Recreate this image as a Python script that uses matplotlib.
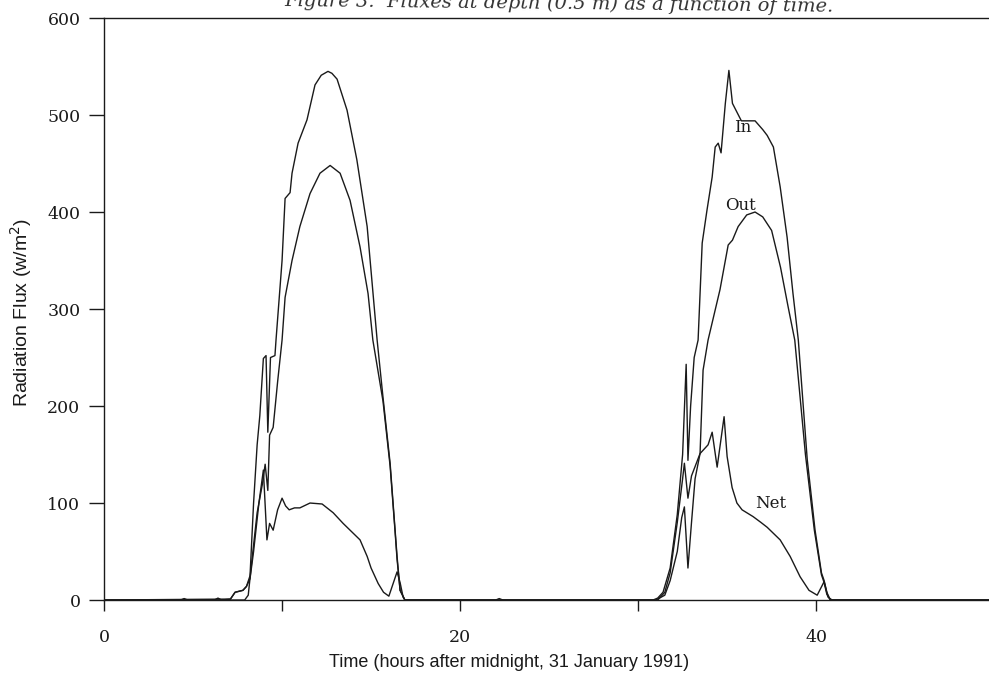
import matplotlib
matplotlib.use("Agg")
import matplotlib.pyplot as plt
import numpy as np

# values (hours after midnight, W/m^2)
hours_in = [0, 4.3, 4.5, 4.7, 6.2, 6.4, 6.6, 7.1, 7.36, 7.8, 8.0, 8.2, 8.4, 8.6, 8.75,
            8.95, 9.1, 9.2, 9.35, 9.6, 9.66, 10.0, 10.17, 10.45, 10.56, 10.9, 11.4,
            11.85, 12.2, 12.58, 12.8, 13.09, 13.65, 14.2, 14.78, 15.34, 15.67, 16.07,
            16.35, 16.46, 16.63, 16.9, 22.0, 22.2, 22.4, 30.84, 31.1, 31.4, 31.8, 32.2,
            32.5, 32.7, 32.8, 32.95, 33.15, 33.37, 33.6, 33.87, 34.16, 34.33, 34.5,
            34.66, 34.9, 35.1, 35.3, 35.55, 35.8, 36.1, 36.57, 37.0, 37.25, 37.6,
            37.98, 38.37, 38.7, 39.0, 39.5, 39.94, 40.3, 40.45, 40.6, 40.8, 52]
flux_in = [0, 0, 1.5, 0, 0, 2, 0, 1, 8, 10, 14, 25, 100, 160, 190,
           249, 252, 173, 250, 252, 268, 350, 414, 420, 440, 471, 495,
           531, 541, 545, 543, 537, 505, 454, 385, 268, 209, 141,
           72, 45, 10, 0, 0, 1.5, 0, 0, 2, 8, 33, 88,
           150, 243, 144, 200, 250, 268, 368, 402, 436, 467, 471,
           461, 512, 546, 512, 503, 494, 494, 494, 485, 479, 467,
           426, 374, 316, 268, 145, 72, 28, 20, 8, 0, 0]

hours_out = [0, 7.9, 8.1, 8.3, 8.6, 8.9, 9.05, 9.2, 9.3, 9.5, 9.75, 10.0, 10.17, 10.56,
             11.0, 11.57, 12.13, 12.7, 13.26, 13.82, 14.38, 14.83, 15.1, 15.67, 16.07,
             16.35, 16.46, 16.63, 16.9, 31.1, 31.5, 31.8, 32.2, 32.5, 32.6, 32.8, 33.0,
             33.48, 33.65, 33.93, 34.6, 35.06, 35.3, 35.62, 36.1, 36.57, 37.0, 37.5,
             38.0, 38.43, 38.8, 39.4, 39.9, 40.3, 40.45, 40.6, 40.8, 52]
flux_out = [0, 0, 5, 40, 90, 120, 140, 113, 170, 178, 225, 268, 312, 350,
            385, 419, 440, 448, 440, 412, 364, 316, 268, 205, 138,
            70, 42, 10, 0, 0, 8, 28, 80, 125, 141, 105, 128,
            151, 237, 268, 320, 366, 371, 385, 397, 400, 395, 381,
            343, 302, 268, 150, 72, 26, 18, 6, 0, 0]

hours_net = [0, 7.1, 7.36, 7.8, 8.0, 8.2, 8.4, 8.7, 8.95, 9.15, 9.3, 9.5, 9.75, 10.0,
             10.2, 10.4, 10.7, 11.0, 11.57, 12.25, 12.87, 13.43, 14.38, 14.78, 15.0,
             15.4, 15.7, 16.0, 16.46, 16.63, 16.8, 16.9, 31.0, 31.5, 31.8, 32.2, 32.45,
             32.6, 32.8, 33.0, 33.2, 33.48, 33.93, 34.16, 34.44, 34.83, 35.0, 35.28,
             35.55, 35.84, 36.46, 36.9, 37.25, 37.98, 38.54, 39.1, 39.6, 40.06, 40.45,
             40.67, 40.9, 52]
flux_net = [0, 1, 8, 10, 14, 22, 50, 100, 134, 62, 79, 72, 93, 105,
            97, 93, 95, 95, 100, 99, 90, 79, 62, 45, 33,
            17, 8, 4, 29, 18, 3, 0, 0, 5, 20, 50, 85,
            96, 33, 80, 125, 151, 160, 173, 137, 189, 148, 116,
            100, 93, 86, 80, 75, 62, 45, 24, 10, 5, 19,
            3, 0, 0]

line_names = ["In", "Out", "Net"]
label_pos = [(35.4, 487), (34.9, 407), (36.6, 100)]

fig = plt.figure(figsize=(9.89, 6.8), dpi=100)
ax = fig.add_axes([0.1052, 0.1176, 0.936, 0.8559])

ink = "#1a1a1a"
ax.plot(hours_in, flux_in, color=ink, lw=1.0)
ax.plot(hours_out, flux_out, color=ink, lw=1.0)
ax.plot(hours_net, flux_net, color=ink, lw=1.0)

for name, (x, y) in zip(line_names, label_pos):
    ax.text(x, y, name, family="DejaVu Serif", fontsize=12, color=ink, va="center")

ax.set_xlim(0, 52)
ax.set_ylim(0, 600)
ax.set_yticks(np.arange(0, 601, 100))
ax.set_xticks([0, 10, 20, 30, 40, 50])
ax.set_xticklabels(["0", "", "20", "", "40", ""])
ax.spines["right"].set_visible(False)
for s in ax.spines.values():
    s.set_linewidth(1.0)
    s.set_color(ink)
ax.tick_params(axis="y", direction="out", length=11, width=1, pad=6, colors=ink,
               labelsize=12.5)
ax.tick_params(axis="x", direction="out", length=8, width=1, pad=13, colors=ink,
               labelsize=12.5)
for lab in ax.get_xticklabels() + ax.get_yticklabels():
    lab.set_family("DejaVu Serif")

fig.text(0.021, 0.54, "Radiation Flux (w/m$^2$)", family="Liberation Sans",
         fontsize=14, rotation=90, ha="center", va="center", color=ink)
fig.text(0.515, 0.026, "Time (hours after midnight, 31 January 1991)",
         family="Liberation Sans", fontsize=13, ha="center", va="center", color=ink)

# caption of the scanned page, cut off at the top edge
fig.text(0.565, 0.987, "Figure 3.  Fluxes at depth (0.5 m) as a function of time.",
         family="DejaVu Serif", style="italic", fontsize=14, ha="center",
         va="baseline", rotation=-0.6, rotation_mode="anchor", color="#333333")

fig.savefig("out.png", dpi=100)
